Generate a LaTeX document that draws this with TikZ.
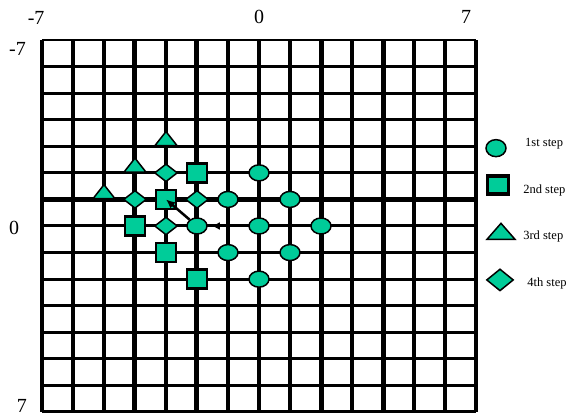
\documentclass[tikz,border=0pt]{standalone}
\usepackage{fontspec}
\setmainfont{Liberation Serif}
\usetikzlibrary{arrows.meta,shapes.geometric}
\definecolor{stepgreen}{RGB}{0,204,153}

\begin{document}
\begin{tikzpicture}[x=31pt,y=-26.57pt,
  vline/.style={line width=3.6pt},
  hline/.style={line width=3pt},
  heavy/.style={line width=5pt},
  axlbl/.style={inner sep=0pt,font=\fontsize{20}{24}\selectfont},
  leglbl/.style={inner sep=0pt,anchor=west,font=\fontsize{12.5}{15}\selectfont},
  dot/.style={ellipse,draw=black,line width=1.5pt,fill=stepgreen,inner sep=0pt,minimum width=20pt,minimum height=16pt},
  sq/.style={rectangle,draw=black,line width=2.5pt,fill=stepgreen,inner sep=0pt,minimum width=20pt,minimum height=19pt},
  tri/.style={isosceles triangle,isosceles triangle stretches,shape border rotate=90,draw=black,line width=1.5pt,fill=stepgreen,inner sep=0pt,minimum width=22pt,minimum height=14pt,anchor=south},
  dia/.style={diamond,draw=black,line width=1.5pt,fill=stepgreen,inner sep=0pt,minimum width=23pt,minimum height=18pt}]
  \useasboundingbox (-8.3548,-8.5058) rectangle (10.1613,7.1886);
  % grid
  \foreach \k in {-7,...,7} \draw[vline] (\k,-7) -- (\k,7);
  \foreach \k in {-6,...,7} \draw[hline] (-7,\k) -- (7,\k);
  \draw[line width=2pt] (-7,-7) -- (7,-7);
  \foreach \k in {-4,-2,2,4} \draw[heavy] (\k,-7) -- (\k,7);
  \draw[heavy] (-7,-1) -- (7,-1);
  % axis labels
  \node[axlbl] (xmin) at (-7.19,-7.83) {-7};
  \node[axlbl] (xmid) at (0,-7.87) {0};
  \node[axlbl] (xmax) at (6.68,-7.87) {7};
  \node[axlbl] (ymin) at (-7.79,-6.66) {-7};
  \node[axlbl] (ymid) at (-7.90,0.075) {0};
  \node[axlbl] (ymax) at (-7.65,6.76) {7};
  % 1st step
  \foreach \n/\x/\y in {c1/0/-2,c2/-1/-1,c3/1/-1,c4/-2/0,c5/0/0,c6/2/0,c7/-1/1,c8/1/1,c9/0/2}
    \node[dot] (\n) at (\x,\y) {};
  % 2nd step
  \foreach \n/\x/\y in {s1/-2/-2,s2/-3/-1,s3/-4/0,s4/-3/1,s5/-2/2}
    \node[sq] (\n) at (\x,\y) {};
  % 3rd step
  \foreach \n/\x/\y in {t1/-3/-3,t2/-4/-2,t3/-5/-1}
    \node[tri] (\n) at (\x,\y) {};
  % 4th step
  \foreach \n/\x/\y in {d1/-3/-2,d2/-4/-1,d3/-2/-1,d4/-3/0}
    \node[dia] (\n) at (\x,\y) {};
  % moves
  \draw[line width=2.5pt,-{Latex[length=9pt,width=8pt]}] (c4) -- (s2.center);
  \coordinate (a0) at (-1.2,0);
  \draw[line width=2pt,-{Latex[length=8pt,width=8pt]},shorten >=4pt] (a0) -- (c4);
  % legend
  \node[dot,minimum width=20pt,minimum height=17pt] (lc) at (7.645,-2.93) {};
  \node[leglbl] (lct) at (8.58,-3.09) {1st step};
  \node[sq,line width=3.5pt,minimum width=21pt,minimum height=18pt] (ls) at (7.71,-1.54) {};
  \node[leglbl] (lst) at (8.52,-1.35) {2nd step};
  \node[tri,minimum width=28pt,minimum height=16pt] (lt) at (7.806,0.53) {};
  \node[leglbl] (ltt) at (8.52,0.41) {3rd step};
  \node[dia,minimum width=27pt,minimum height=22pt] (ld) at (7.774,2.03) {};
  \node[leglbl] (ldt) at (8.65,2.15) {4th step};
\end{tikzpicture}
\end{document}
